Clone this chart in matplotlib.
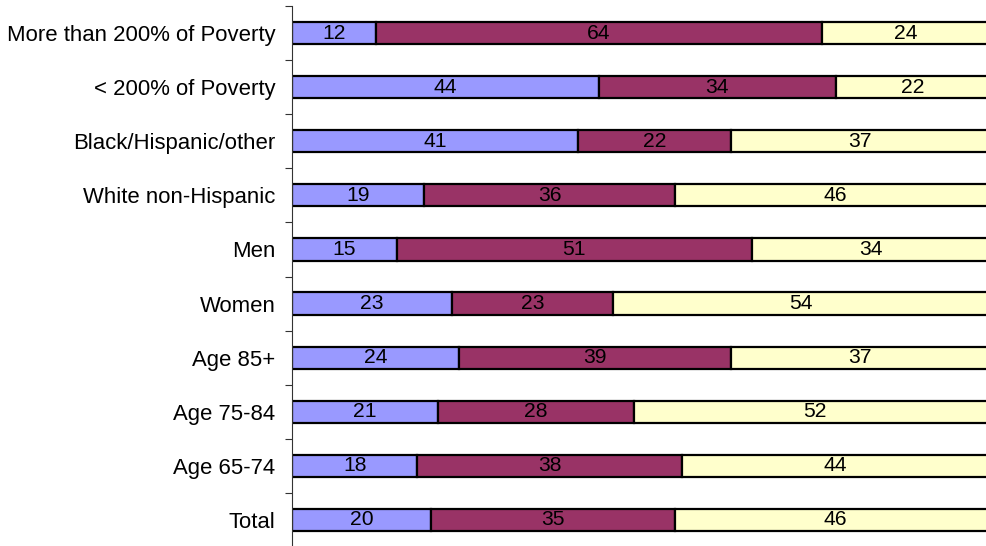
import numpy as np
import matplotlib
matplotlib.use("Agg")
import matplotlib.pyplot as plt
from matplotlib.ticker import FixedLocator

plt.rcParams['font.family'] = ['Liberation Sans', 'DejaVu Sans']

categories = ["Total", "Age 65-74", "Age 75-84", "Age 85+", "Women", "Men",
              "White non-Hispanic", "Black/Hispanic/other",
              "< 200% of Poverty", "More than 200% of Poverty"]
first = [20, 18, 21, 24, 23, 15, 19, 41, 44, 12]
second = [35, 38, 28, 39, 23, 51, 36, 22, 34, 64]
third = [46, 44, 52, 37, 54, 34, 46, 37, 22, 24]
colors = ["#9999FF", "#993366", "#FFFFCC"]

W, H = 987, 546
xmax = 104
fig = plt.figure(figsize=(W / 100, H / 100), dpi=100)
ax = fig.add_axes([292 / W, -1 / H, 6.97 * xmax / W, 541 / H])

y = np.arange(len(categories))
left = np.zeros(len(categories))
for vals, c in zip([first, second, third], colors):
    vals = np.array(vals, dtype=float)
    ax.barh(y, vals, left=left, height=0.41, color=c, edgecolor="black",
            linewidth=1.6, zorder=2)
    for yi, l, v in zip(y, left, vals):
        ax.text(l + v / 2, yi, str(int(v)), ha="center", va="center",
                fontsize=15.2, color="black", zorder=3)
    left += vals

ax.set_xlim(0, xmax)
ax.set_ylim(-0.5, len(categories) - 0.5)
ax.set_yticks(y)
ax.set_yticklabels(categories, fontsize=15.9)
ax.yaxis.set_minor_locator(FixedLocator(np.arange(-0.5, len(categories), 1)))
ax.tick_params(axis="y", which="major", length=0, pad=12)
ax.tick_params(axis="y", which="minor", length=5, width=0.8, color="#333333")
ax.set_xticks([])
for s in ["top", "right", "bottom"]:
    ax.spines[s].set_visible(False)
ax.spines["left"].set_color("#333333")
ax.spines["left"].set_linewidth(0.8)

fig.savefig("out.png", dpi=100)
